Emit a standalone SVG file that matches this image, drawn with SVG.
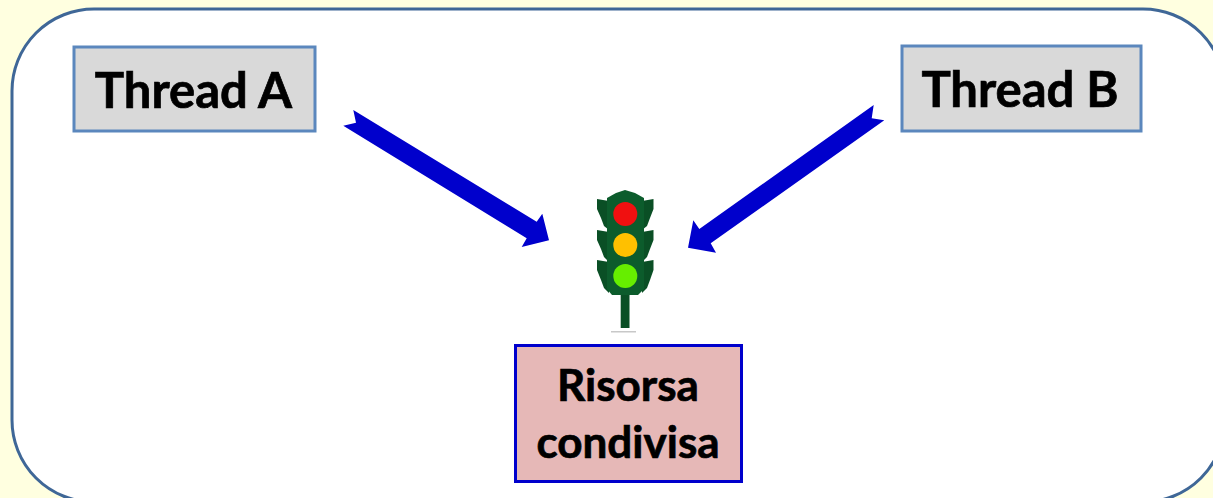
<svg xmlns="http://www.w3.org/2000/svg" width="1213" height="498" viewBox="0 0 1213 498">
<style>
.lbl{font-family:"Lato","Liberation Sans",sans-serif;font-weight:700;font-size:49px;fill:#000;stroke:#000;stroke-width:.7;text-anchor:middle}
.res{font-size:44px}
.thread{fill:#d9d9d9;stroke:#5b87bd;stroke-width:3}
.arrow{fill:#0000cc}
.wing{fill:#0a4f25}
.body{fill:#0c5c2c}
</style>
<rect width="1213" height="498" fill="#ffffe0"/>
<rect id="frame" x="12" y="9" width="1213" height="493" rx="82" ry="82" fill="#fff" stroke="#3f6797" stroke-width="3"/>
<g id="connectors">
<polygon class="arrow" points="353.300,110 356,122.700 343.300,125.700 526.700,238.300 521.700,247 549,240.300 542.300,213.700 536.700,221.700"/>
<polygon class="arrow" points="873.700,105 871.700,118.300 884.300,120.300 710.700,243.300 716,252.700 688,247.700 693.300,220.300 699.300,229"/>
</g>
<g id="thread-a"><rect class="thread" x="74" y="47" width="241" height="84"/><text class="lbl" x="193.500" y="107.500">Thread A</text></g>
<g id="thread-b"><rect class="thread" x="902" y="46" width="239" height="85"/><text class="lbl" x="1020" y="107">Thread B</text></g>
<g id="traffic-light">
<rect class="wing" x="620.700" y="290" width="8.800" height="38"/>
<path class="wing" d="M597,199L609,201V230L604,226L601,218L597,209Z"/>
<path class="wing" d="M597,230L609,232V262L604,257L601,249L597,240Z"/>
<path class="wing" d="M597,260L609,262V293L604,288L601,280L597,270Z"/>
<path class="wing" d="M653.500,199L642,201V230L647,226L650,218L653.500,209Z"/>
<path class="wing" d="M653.500,230L642,232V262L647,257L650,249L653.500,240Z"/>
<path class="wing" d="M653.500,260L642,262V293L647,288L650,280L653.500,270Z"/>
<path class="body" d="M607,198L616,193L625,190L635,193L644,198V289L638,295H612L607,289Z"/>
<circle cx="625.300" cy="214" r="12" fill="#f01010"/>
<circle cx="625.300" cy="245" r="12" fill="#ffc000"/>
<circle cx="625.300" cy="276" r="12" fill="#66ee00"/>
<rect x="611" y="331" width="25" height="1.500" fill="#c8c8c8"/>
</g>
<g id="risorsa"><rect x="515.500" y="345.500" width="226" height="136" fill="#e6b8b7" stroke="#0000cc" stroke-width="3"/>
<text class="lbl res" x="628" y="401">Risorsa</text>
<text class="lbl res" x="628" y="457.500">condivisa</text></g>
</svg>
